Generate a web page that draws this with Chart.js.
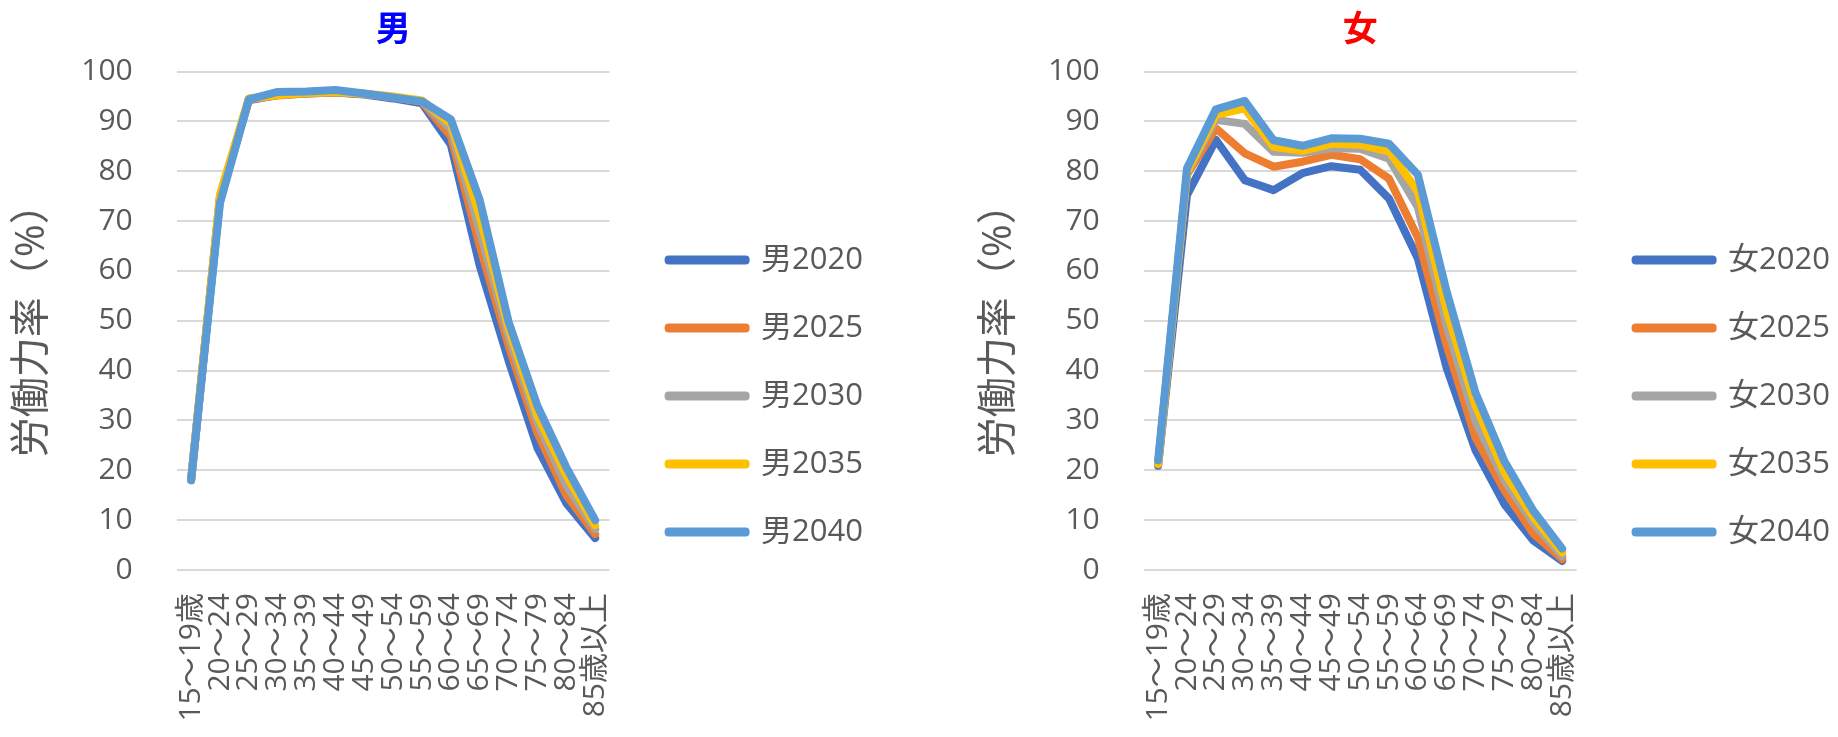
<!DOCTYPE html>
<html lang="ja">
<head>
<meta charset="utf-8">
<title>労働力率の見通し（男女別）</title>
<script src="https://cdn.jsdelivr.net/npm/chart.js@4.4.1/dist/chart.umd.min.js"></script>
<style>
  html, body { margin: 0; padding: 0; background: #ffffff; overflow: hidden; }
  #wrap { position: relative; width: 1838px; height: 737px; overflow: hidden; }
  #wrap canvas { position: absolute; top: 0; }
  #men { left: 0; }
  #women { left: 967px; }
</style>
</head>
<body>
<div id="wrap">
  <canvas id="men" width="967" height="737"></canvas>
  <canvas id="women" width="967" height="737"></canvas>
</div>
<script>
// 年齢階級（横軸）
const ageGroups = ['15～19歳', '20～24', '25～29', '30～34', '35～39', '40～44', '45～49',
  '50～54', '55～59', '60～64', '65～69', '70～74', '75～79', '80～84', '85歳以上'];

// 見通しの年
const years = [2020, 2025, 2030, 2035, 2040];

// 縦軸の目盛（%）
const yTickValues = [0, 10, 20, 30, 40, 50, 60, 70, 80, 90, 100];

// 男性の労働力率（%）
const men2020 = [18.0, 74.4, 94.2, 95.3, 95.6, 95.8, 95.4, 94.6, 93.6, 85.3, 61.0, 42.0, 24.5, 13.4, 6.4];
const men2025 = [18.1, 75.1, 94.4, 95.2, 95.6, 95.8, 95.5, 94.8, 93.9, 87.0, 65.0, 45.0, 27.5, 15.0, 7.2];
const men2030 = [18.2, 74.9, 94.5, 95.3, 95.7, 95.9, 95.5, 94.9, 94.0, 88.5, 68.0, 47.0, 29.5, 17.0, 8.2];
const men2035 = [18.3, 75.3, 94.6, 95.3, 95.7, 95.9, 95.6, 95.0, 94.2, 89.5, 71.0, 48.5, 31.0, 19.0, 9.0];
const men2040 = [18.1, 73.6, 94.4, 95.9, 96.0, 96.3, 95.6, 94.8, 94.0, 90.4, 74.2, 49.8, 32.9, 20.6, 10.0];

// 女性の労働力率（%）
const women2020 = [20.9, 75.2, 86.3, 78.2, 76.2, 79.6, 81.0, 80.3, 74.5, 62.5, 40.5, 24.0, 13.2, 5.9, 1.8];
const women2025 = [21.2, 79.3, 88.6, 83.6, 80.9, 81.9, 83.3, 82.4, 78.5, 66.7, 45.0, 26.5, 16.0, 7.3, 2.2];
const women2030 = [21.4, 79.6, 90.3, 89.5, 83.9, 83.7, 84.6, 84.5, 82.5, 72.8, 49.0, 29.8, 18.0, 9.4, 2.8];
const women2035 = [21.3, 79.8, 91.3, 92.6, 84.9, 84.1, 85.5, 85.3, 84.0, 76.0, 52.0, 33.0, 19.6, 10.6, 3.5];
const women2040 = [22.0, 80.6, 92.4, 94.1, 86.2, 85.1, 86.6, 86.5, 85.5, 79.3, 55.8, 35.5, 21.8, 11.9, 4.3];

// 系列の色（2020 → 2040）
const seriesColors = ['#4472C4', '#ED7D31', '#A5A5A5', '#FFC000', '#5B9BD5'];

const textGray = '#595959';
Chart.defaults.font.family = '"Open Sans", "Noto Sans CJK JP", sans-serif';
Chart.defaults.color = textGray;

function buildChart(canvasId, heading, headingColor, prefix, seriesList) {
  const datasets = seriesList.map((values, i) => ({
    label: prefix + years[i],
    data: values,
    yAxisID: 'y',
    borderColor: seriesColors[i],
    backgroundColor: seriesColors[i],
    borderWidth: 8,
    borderJoinStyle: 'round',
    borderCapStyle: 'round',
    pointRadius: 0,
    tension: 0,
    // later years are painted over earlier ones
    order: seriesList.length - 1 - i
  }));

  return new Chart(document.getElementById(canvasId), {
    type: 'line',
    data: { labels: ageGroups, datasets },
    options: {
      responsive: false,
      animation: false,
      events: [],
      devicePixelRatio: 1,
      layout: { padding: { left: 0, top: 0, right: 94, bottom: -55 } },
      plugins: {
        title: {
          display: true,
          text: heading,
          color: headingColor,
          fullSize: false,
          font: { size: 35, weight: 'bold' },
          padding: { top: 10, bottom: 19.5 }
        },
        legend: {
          position: 'right',
          maxWidth: 400,
          labels: {
            boxWidth: 77,
            boxHeight: 1,
            padding: 37,
            color: textGray,
            font: { size: 31 },
            // keep the legend in year order
            sort: (a, b) => a.datasetIndex - b.datasetIndex
          }
        },
        tooltip: { enabled: false }
      },
      scales: {
        x: {
          offset: true,
          grid: { display: false, drawTicks: false },
          border: { display: false },
          ticks: {
            autoSkip: false,
            minRotation: 90,
            maxRotation: 90,
            padding: 23,
            color: textGray,
            font: { size: 30 }
          },
          afterFit: (scale) => { scale.height = 222; }
        },
        y: {
          min: 0,
          max: 100,
          grid: { color: '#d9d9d9', lineWidth: 2, drawTicks: false },
          border: { display: false },
          ticks: { padding: 44, color: textGray, font: { size: 30 } },
          title: {
            display: true,
            text: '労働力率（%）',
            color: textGray,
            font: { size: 40 },
            padding: { top: 9, bottom: 0 }
          },
          afterBuildTicks: (scale) => { scale.ticks = yTickValues.map(v => ({ value: v })); },
          afterFit: (scale) => { scale.width = 176.7; }
        },
        // blank strip between the plot and the legend
        gap: {
          type: 'linear',
          position: 'right',
          display: true,
          grid: { display: false, drawTicks: false },
          border: { display: false },
          ticks: { display: false },
          afterFit: (scale) => { scale.width = 22; }
        }
      }
    }
  });
}

buildChart('men', '男', '#0000FF', '男', [men2020, men2025, men2030, men2035, men2040]);
buildChart('women', '女', '#FF0000', '女', [women2020, women2025, women2030, women2035, women2040]);
</script>
</body>
</html>
